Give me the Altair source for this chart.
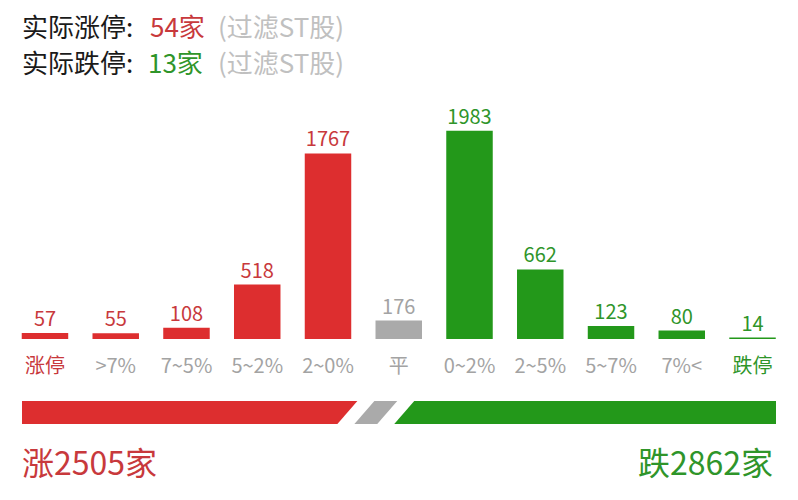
import altair as alt
import pandas as pd

# ---- data ----
categories = ["涨停", ">7%", "7~5%", "5~2%", "2~0%", "平", "0~2%", "2~5%", "5~7%", "7%<", "跌停"]
counts = [57, 55, 108, 518, 1767, 176, 1983, 662, 123, 80, 14]
sides = ["涨", "涨", "涨", "涨", "涨", "平", "跌", "跌", "跌", "跌", "跌"]

limit_up_real = 54
limit_down_real = 13
total_up = 2505
total_flat = 176
total_down = 2862

# ---- style ----
FONT = "Noto Sans CJK SC"
RED = "#dd2e2f"
GREEN = "#23981a"
GRAY = "#aaaaaa"
RED_TXT = "#c8393c"
GREEN_TXT = "#2f952a"
GRAY_TXT = "#a3a3a3"
LIGHT_TXT = "#c0c0c0"
DARK_TXT = "#1a1a1a"

df = pd.DataFrame({"cat": categories, "n": counts, "side": sides})
df["lab"] = ["up"] + ["mid"] * (len(categories) - 2) + ["down"]

PX_PER_UNIT = 0.105
BASE = 331
xscale = alt.Scale(domain=categories, range=[1.6, 779.9], paddingInner=0.343, paddingOuter=0.1715)
yscale = alt.Scale(domain=[0, max(counts)], range=[BASE, BASE - max(counts) * PX_PER_UNIT], nice=False)
side_color = alt.Scale(domain=["涨", "平", "跌"], range=[RED, GRAY, GREEN])
side_txt = alt.Scale(domain=["涨", "平", "跌"], range=[RED_TXT, GRAY_TXT, GREEN_TXT])
lab_txt = alt.Scale(domain=["up", "mid", "down"], range=[RED_TXT, GRAY_TXT, GREEN_TXT])

X = alt.X("cat:N", sort=categories, scale=xscale, axis=None)

bars = alt.Chart(df).mark_bar().encode(
    x=X,
    y=alt.Y("n:Q", scale=yscale, axis=None),
    color=alt.Color("side:N", scale=side_color, legend=None),
)

values = alt.Chart(df).mark_text(baseline="alphabetic", dy=-7, fontSize=20, font=FONT).encode(
    x=X,
    y=alt.Y("n:Q", scale=yscale, axis=None),
    text="n:Q",
    color=alt.Color("side:N", scale=side_txt, legend=None),
)

cat_labels = alt.Chart(df).mark_text(baseline="alphabetic", fontSize=20, font=FONT).encode(
    x=X,
    y=alt.value(365),
    text="cat:N",
    color=alt.Color("lab:N", scale=lab_txt, legend=None),
)

# ---- bottom proportion strip (parallelograms) ----
W = 754.0
GAP_PX = 17.0
SLANT_PX = 20.0
total = total_up + total_flat + total_down
k = total / (W - 2 * GAP_PX)
gap = GAP_PX * k
sl = SLANT_PX * k
r_end = total_up
g_start = r_end + gap
g_end = g_start + total_flat
d_start = g_end + gap
d_end = d_start + total_down

strip = pd.DataFrame({
    "seg": ["涨", "涨", "平", "平", "跌", "跌"],
    "pos": [0, 1, 0, 1, 0, 1],
    "x0": [0, 0, g_start - sl / 2, g_start + sl / 2, d_start - sl / 2, d_start + sl / 2],
    "x1": [r_end - sl / 2, r_end + sl / 2, g_end - sl / 2, g_end + sl / 2, d_end, d_end],
})

strip_chart = alt.Chart(strip).mark_area(orient="horizontal").encode(
    y=alt.Y("pos:Q", scale=alt.Scale(domain=[0, 1], range=[416, 393]), axis=None),
    x=alt.X("x0:Q", scale=alt.Scale(domain=[0, d_end], range=[14, 768], nice=False, zero=False), axis=None, stack=None),
    x2="x1:Q",
    color=alt.Color("seg:N", scale=side_color, legend=None),
)


def label(text, x, y, color, size, align="left"):
    return alt.Chart(pd.DataFrame({"t": [text]})).mark_text(
        align=align, baseline="alphabetic", fontSize=size, font=FONT, color=color
    ).encode(x=alt.value(x), y=alt.value(y), text="t:N")


header = [
    label("实际涨停:", 14, 29, DARK_TXT, 26),
    label(f"{limit_up_real}家", 142, 29, RED_TXT, 26),
    label("(过滤ST股)", 210, 29, LIGHT_TXT, 26),
    label("实际跌停:", 14, 65, DARK_TXT, 26),
    label(f"{limit_down_real}家", 140, 65, GREEN_TXT, 26),
    label("(过滤ST股)", 210, 65, LIGHT_TXT, 26),
]
footer = [
    label(f"涨{total_up}家", 14, 467, RED_TXT, 32),
    label(f"跌{total_down}家", 765, 467, GREEN_TXT, 32, align="right"),
]

chart = alt.layer(bars, values, cat_labels, strip_chart, *header, *footer).resolve_scale(
    x="independent", y="independent", color="independent"
).properties(
    width=782, height=484, padding=0, autosize=alt.AutoSizeParams(type="none")
).configure_view(stroke=None)

chart.save("out.html", embed_options={"renderer": "svg", "actions": False})
